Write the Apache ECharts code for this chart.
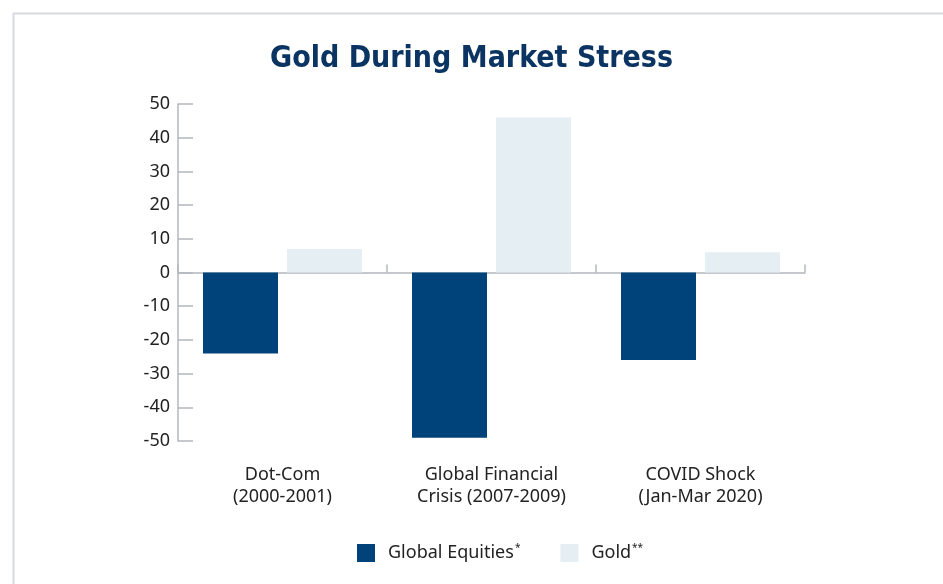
<!DOCTYPE html>
<html>
<head>
<meta charset="utf-8">
<script src="https://cdn.jsdelivr.net/npm/echarts@6/dist/echarts.min.js"></script>
<style>html,body{margin:0;padding:0;background:#fff;}#c{width:943px;height:584px;}</style>
</head>
<body>
<div id="c"></div>
<script>
const categories = ['Dot-Com\n(2000-2001)', 'Global Financial\nCrisis (2007-2009)', 'COVID Shock\n(Jan-Mar 2020)'];
const equities = [-24, -49, -26];
const gold = [7, 46, 6];
const yTicks = [-50, 50, 10];

const chart = echarts.init(document.getElementById('c'));
const labelFont = '"Noto Sans", sans-serif';
chart.setOption({
  animation: false,
  backgroundColor: '#fff',
  graphic: [{
    type: 'rect', left: 11, top: 11, shape: {width: 940, height: 580},
    style: {fill: 'none', stroke: '#d6dadf', lineWidth: 2}, silent: true
  }],
  title: {
    text: 'Gold During Market Stress', left: 'center', top: 39,
    textStyle: {fontFamily: '"DejaVu Sans Condensed", "DejaVu Sans", sans-serif', fontSize: 30, fontWeight: 'bold', color: '#0b3462'}
  },
  legend: {
    bottom: 17, left: 352, itemWidth: 18, itemHeight: 18, itemGap: 40,
    icon: 'rect',
    formatter: function (n) { return n === 'Global Equities' ? '{a|Global Equities}{s|*}' : '{a|Gold}{s|**}'; },
    textStyle: {
      padding: [0, 0, 0, 8],
      rich: {
        a: {fontFamily: labelFont, fontSize: 18, color: '#222'},
        s: {fontFamily: labelFont, fontSize: 10, color: '#222', verticalAlign: 'top', padding: [0, 0, 10, 1]}
      }
    },
    data: ['Global Equities', 'Gold']
  },
  grid: {left: 178, right: 138, top: 104, bottom: 143},
  xAxis: [{
    type: 'category', data: categories, position: 'bottom',
    axisLine: {onZero: true, lineStyle: {color: '#b3b8be', width: 1.5}},
    axisTick: {show: true, inside: true, length: 8, lineStyle: {color: '#b3b8be', width: 1.5}},
    axisLabel: {show: false}
  }, {
    type: 'category', data: categories, position: 'bottom', offset: 0,
    axisLine: {show: false, onZero: false}, axisTick: {show: false},
    axisLabel: {margin: 23, fontFamily: labelFont, fontSize: 18, color: '#222', lineHeight: 22}
  }],
  yAxis: {
    type: 'value', min: yTicks[0], max: yTicks[1], interval: yTicks[2],
    axisLine: {show: true, lineStyle: {color: '#b3b8be', width: 1.5}},
    axisTick: {show: true, inside: true, length: 15, lineStyle: {color: '#b3b8be', width: 1.5}},
    splitLine: {show: false},
    axisLabel: {margin: 8, fontFamily: labelFont, fontSize: 18, color: '#222'}
  },
  series: [{
    name: 'Global Equities', type: 'bar', data: equities, barWidth: 75, barGap: '12%',
    itemStyle: {color: '#00437a'}
  }, {
    name: 'Gold', type: 'bar', data: gold, barWidth: 75,
    itemStyle: {color: '#e5eef2'}
  }]
});
</script>
</body>
</html>
